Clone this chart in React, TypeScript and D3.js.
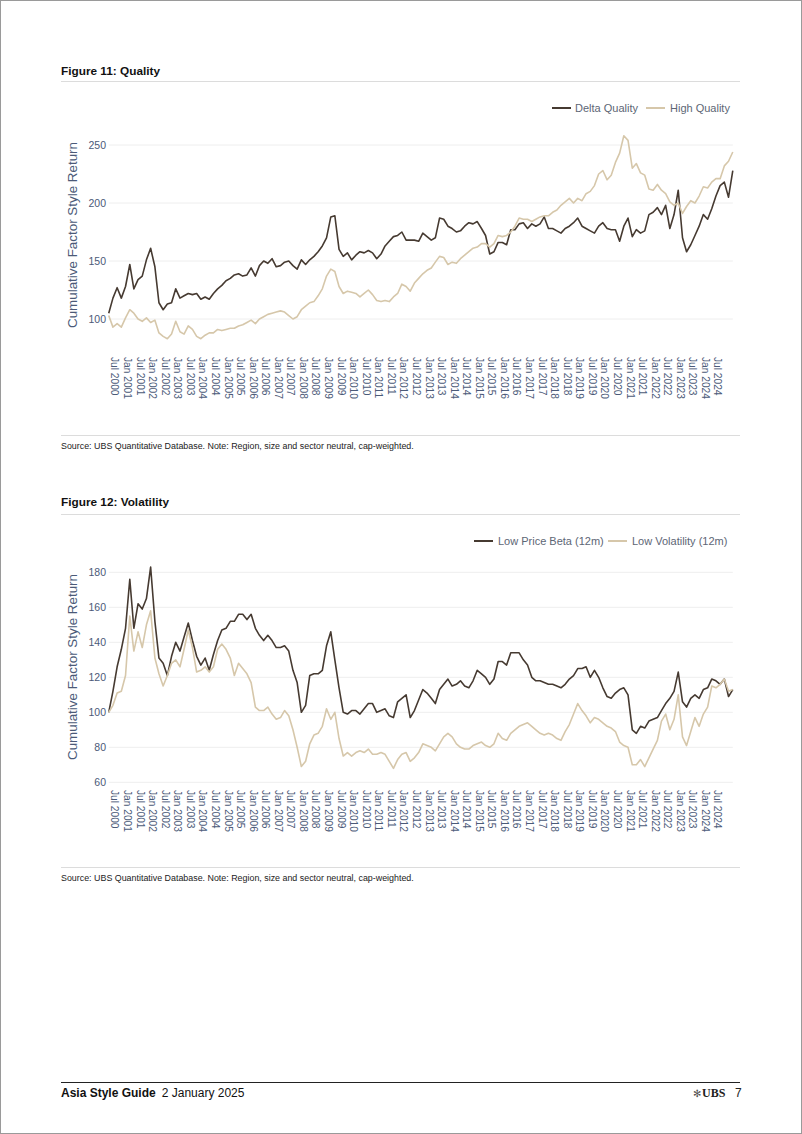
import React from "react";
import * as d3 from "d3";

// ---------- DATA (bi-monthly observations, first one Apr 2000) ----------
const FIRST_OBS = new Date(2000, 3, 1);
const OBS_STEP_MONTHS = 2;

const deltaQuality = [
  105, 118, 127, 118, 128, 147, 126, 134, 137, 151, 161, 145, 114, 108, 113, 114, 126, 118, 120, 122,
  121, 122, 117, 119, 117, 122, 126, 129, 133, 135, 138, 139, 137, 138, 144, 137, 146, 150, 148, 152,
  145, 146, 149, 150, 146, 143, 151, 147, 151, 154, 158, 163, 170, 188, 189, 160, 154, 157, 151, 155,
  158, 157, 159, 157, 152, 156, 163, 167, 171, 172, 175, 168, 168, 168, 167, 174, 171, 168, 170, 187,
  186, 180, 178, 175, 176, 180, 183, 182, 184, 178, 172, 156, 158, 166, 166, 164, 177, 177, 182, 183,
  178, 182, 180, 182, 188, 178, 178, 176, 174, 178, 180, 183, 187, 180, 178, 176, 174, 180, 183, 178,
  177, 177, 167, 180, 187, 171, 177, 174, 176, 190, 192, 196, 190, 198, 178, 190, 211, 170, 158, 164,
  172, 180, 190, 186, 195, 206, 215, 218, 205, 228,
];

const highQuality = [
  103, 93, 96, 93, 101, 108, 105, 100, 98, 101, 97, 99, 88, 85, 83, 87, 98, 89, 87, 94,
  91, 85, 83, 86, 88, 88, 91, 90, 91, 92, 92, 94, 95, 97, 99, 96, 100, 102, 104, 105,
  106, 107, 106, 103, 100, 102, 108, 111, 114, 115, 120, 126, 137, 143, 141, 128, 122, 124, 123, 122,
  119, 122, 125, 121, 116, 115, 116, 115, 119, 122, 130, 128, 124, 131, 135, 139, 142, 144, 149, 154,
  153, 147, 149, 148, 152, 155, 158, 161, 162, 165, 165, 162, 165, 172, 171, 172, 175, 180, 187, 186,
  186, 184, 186, 188, 189, 189, 192, 194, 198, 201, 204, 200, 204, 202, 208, 210, 215, 225, 228, 220,
  224, 235, 243, 258, 254, 230, 234, 226, 224, 212, 211, 216, 211, 208, 201, 198, 200, 191, 197, 202,
  200, 206, 214, 213, 218, 221, 221, 232, 236, 244,
];

const lowPriceBeta = [
  100, 112, 126, 136, 148, 176, 148, 162, 159, 165, 183, 152, 131, 128, 121, 132, 140, 135, 143, 151,
  141, 132, 127, 131, 124, 133, 141, 147, 148, 152, 152, 156, 156, 153, 156, 148, 144, 141, 144, 141,
  137, 137, 138, 135, 124, 117, 100, 104, 121, 122, 122, 124, 138, 146, 130, 114, 100, 99, 101, 101,
  99, 102, 105, 105, 100, 101, 102, 98, 97, 106, 108, 110, 97, 101, 107, 113, 111, 108, 105, 113,
  116, 119, 115, 116, 118, 115, 114, 118, 124, 122, 120, 116, 119, 129, 129, 127, 134, 134, 134, 130,
  127, 120, 118, 118, 117, 116, 116, 115, 114, 116, 119, 121, 125, 125, 126, 120, 124, 120, 114, 109,
  108, 111, 113, 114, 110, 90, 88, 92, 91, 95, 96, 97, 101, 105, 108, 112, 123, 106, 103, 108,
  110, 108, 113, 114, 119, 118, 116, 119, 109, 113,
];

const lowVolatility = [
  100, 104, 111, 112, 121, 155, 135, 146, 137, 150, 158, 131, 122, 115, 121, 128, 130, 126, 136, 147,
  137, 123, 124, 126, 123, 126, 136, 139, 136, 131, 121, 128, 125, 122, 117, 103, 101, 101, 103, 99,
  96, 97, 101, 98, 90, 80, 69, 72, 82, 87, 88, 92, 102, 96, 100, 85, 75, 77, 75, 77,
  78, 77, 79, 76, 76, 77, 76, 72, 68, 73, 76, 77, 72, 74, 77, 82, 81, 80, 78, 82,
  86, 88, 86, 82, 80, 79, 79, 81, 82, 83, 81, 80, 82, 88, 85, 84, 88, 90, 92, 93,
  94, 92, 90, 88, 87, 88, 87, 85, 84, 89, 93, 99, 105, 101, 98, 94, 97, 96, 94, 92,
  91, 89, 83, 81, 80, 70, 70, 73, 69, 74, 79, 84, 95, 99, 90, 96, 110, 86, 81, 89,
  97, 92, 99, 103, 115, 114, 116, 119, 112, 113,
];

const qualityTicks = [100, 150, 200, 250];
const volatilityTicks = [60, 80, 100, 120, 140, 160, 180];

const qualityLegend = ["Delta Quality", "High Quality"];
const volatilityLegend = ["Low Price Beta (12m)", "Low Volatility (12m)"];

const Y_TITLE = "Cumulative Factor Style Return";
const SOURCE_NOTE =
  "Source: UBS Quantitative Database. Note: Region, size and sector neutral, cap-weighted.";

// ---------- STYLE ----------
const FONT = "'Liberation Sans', Arial, Helvetica, sans-serif";
const DARK = "#463a31";
const LIGHT = "#d6c7aa";
const AXIS_TEXT = "#4b5a78";
const LEGEND_TEXT = "#5d6675";
const GRID = "#eeeeee";

const dates = d3
  .range(deltaQuality.length)
  .map((i) => d3.timeMonth.offset(FIRST_OBS, i * OBS_STEP_MONTHS));

const x = d3
  .scaleTime()
  .domain([new Date(2000, 6, 1), new Date(2024, 6, 1)])
  .range([115, 718]);

const xTicks = d3.timeMonth.every(6)!.range(new Date(2000, 6, 1), new Date(2024, 7, 1));
const fmt = d3.timeFormat("%b %Y");

type Series = { values: number[]; color: string };

function LineChart(props: {
  yDomain: [number, number];
  yRange: [number, number];
  ticks: number[];
  series: Series[];
  legend: string[];
  legendY: number;
  legendX: number[];
  xLabelTop: number;
  yTitleCenter: number;
}) {
  const y = d3.scaleLinear().domain(props.yDomain).range(props.yRange);
  const x0 = x(dates[0]);
  const x1 = x(dates[dates.length - 1]);
  const line = d3
    .line<number>()
    .x((_, i) => x(dates[i]))
    .y((d) => y(d))
    .curve(d3.curveLinear);
  return (
    <g fontFamily={FONT}>
      {props.ticks.map((t) => (
        <g key={t}>
          <line x1={x0} x2={x1} y1={y(t)} y2={y(t)} stroke={GRID} strokeWidth={1} />
          <text x={106} y={y(t)} dy="0.35em" textAnchor="end" fontSize={10.5} fill={AXIS_TEXT}>
            {t}
          </text>
        </g>
      ))}
      <text
        transform={`translate(77,${props.yTitleCenter}) rotate(-90)`}
        textAnchor="middle"
        fontSize={13.4}
        fill={AXIS_TEXT}
      >
        {Y_TITLE}
      </text>
      {xTicks.map((d) => (
        <text
          key={+d}
          transform={`translate(${x(d)},${props.xLabelTop}) rotate(90)`}
          dy="0.35em"
          textAnchor="start"
          fontSize={10.2}
          fill={AXIS_TEXT}
        >
          {fmt(d)}
        </text>
      ))}
      {props.series.map((s, i) => (
        <path
          key={i}
          d={line(s.values) || ""}
          fill="none"
          stroke={s.color}
          strokeWidth={1.6}
          strokeLinejoin="round"
        />
      ))}
      {props.series.map((s, i) => (
        <g key={"lg" + i}>
          <line
            x1={props.legendX[i * 2]}
            x2={props.legendX[i * 2] + 19}
            y1={props.legendY}
            y2={props.legendY}
            stroke={s.color}
            strokeWidth={2}
          />
          <text
            x={props.legendX[i * 2 + 1]}
            y={props.legendY}
            dy="0.35em"
            fontSize={11}
            fill={LEGEND_TEXT}
          >
            {props.legend[i]}
          </text>
        </g>
      ))}
    </g>
  );
}

function Header(props: { title: string; y: number; ruleY: number }) {
  return (
    <g fontFamily={FONT}>
      <text x={61} y={props.y} fontSize={11.8} fontWeight="bold" fill="#111">
        {props.title}
      </text>
      <line x1={61} x2={740} y1={props.ruleY} y2={props.ruleY} stroke="#dcdcdc" strokeWidth={1} />
    </g>
  );
}

function Source(props: { ruleY: number; y: number }) {
  return (
    <g fontFamily={FONT}>
      <line x1={61} x2={740} y1={props.ruleY} y2={props.ruleY} stroke="#dcdcdc" strokeWidth={1} />
      <text x={61} y={props.y} fontSize={8.9} fill="#222">
        {SOURCE_NOTE}
      </text>
    </g>
  );
}

export default function App() {
  return (
    <svg
      width={802}
      height={1134}
      style={{ position: "absolute", left: 0, top: 0, background: "#fff" }}
    >
      <rect x={0.5} y={0.5} width={801} height={1133} fill="#fff" stroke="#9a9a9a" />
      <Header title="Figure 11: Quality" y={75} ruleY={81.5} />
      <LineChart
        yDomain={[100, 250]}
        yRange={[319, 145]}
        ticks={qualityTicks}
        series={[
          { values: deltaQuality, color: DARK },
          { values: highQuality, color: LIGHT },
        ]}
        legend={qualityLegend}
        legendY={108}
        legendX={[552, 575, 646, 670]}
        xLabelTop={357}
        yTitleCenter={235}
      />
      <Source ruleY={435.5} y={449} />

      <Header title="Figure 12: Volatility" y={506} ruleY={514.5} />
      <LineChart
        yDomain={[60, 180]}
        yRange={[782.3, 572.3]}
        ticks={volatilityTicks}
        series={[
          { values: lowPriceBeta, color: DARK },
          { values: lowVolatility, color: LIGHT },
        ]}
        legend={volatilityLegend}
        legendY={541}
        legendX={[474, 498, 608, 632]}
        xLabelTop={790}
        yTitleCenter={667}
      />
      <Source ruleY={867.5} y={881} />

      <g fontFamily={FONT}>
        <line x1={61} x2={740} y1={1082.5} y2={1082.5} stroke="#222" strokeWidth={1} />
        <text x={61} y={1097} fontSize={12} fill="#111">
          <tspan fontWeight="bold">Asia Style Guide</tspan>
          <tspan dx={6}>2 January 2025</tspan>
        </text>
        <text x={693} y={1097} fontSize={10} fill="#555" fontFamily="'DejaVu Sans', sans-serif">
          ✻
        </text>
        <text
          x={702}
          y={1097}
          fontSize={12}
          fontWeight="bold"
          fill="#222"
          fontFamily="'Liberation Serif', 'DejaVu Serif', serif"
        >
          UBS
        </text>
        <text x={735} y={1097} fontSize={12} fill="#222">
          7
        </text>
      </g>
    </svg>
  );
}
